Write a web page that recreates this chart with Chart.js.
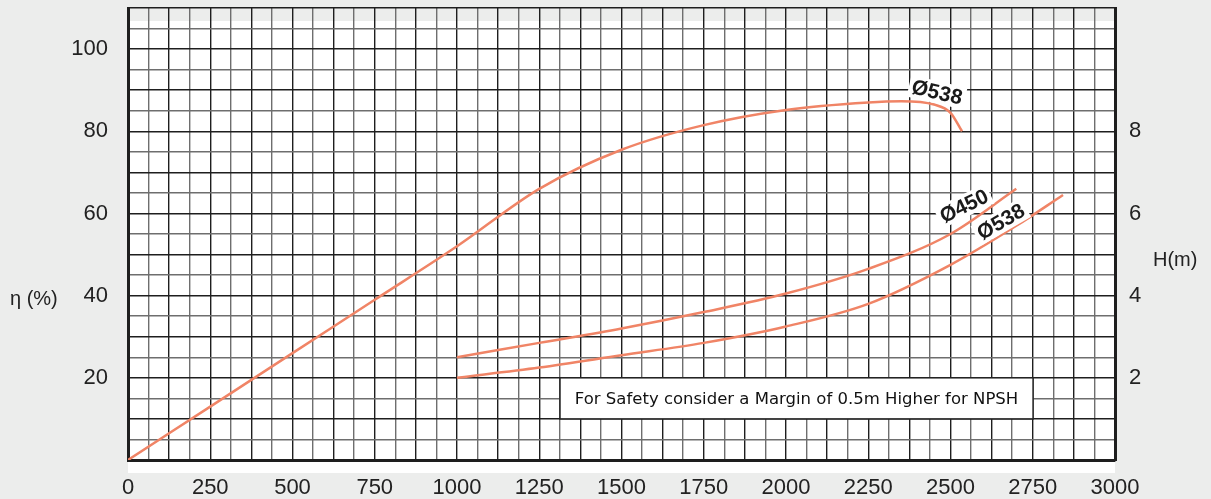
<!DOCTYPE html>
<html>
<head>
<meta charset="utf-8">
<script src="https://cdn.jsdelivr.net/npm/chart.js"></script>
<style>
  html, body { margin: 0; padding: 0; background: #ecedec; }
  canvas { display: block; }
</style>
</head>
<body>
<canvas id="pump" width="1211" height="499"></canvas>
<script>
// efficiency curve (left axis, %)
const effFlow = [0, 250, 500, 750, 1000, 1250, 1500, 1750, 2000, 2250, 2350, 2450, 2500, 2535];
const effVals = [0, 13, 26, 39, 52, 66, 75.5, 81.5, 85.2, 87, 87.3, 86.5, 84.5, 80];
// NPSH curves (right axis, m)
const h450Flow = [1000, 1250, 1500, 1750, 2000, 2250, 2500, 2700];
const h450Vals = [2.5, 2.85, 3.2, 3.6, 4.05, 4.65, 5.5, 6.6];
const h538Flow = [1000, 1250, 1500, 1750, 2000, 2250, 2500, 2700, 2842];
const h538Vals = [2.0, 2.25, 2.55, 2.85, 3.25, 3.8, 4.75, 5.7, 6.45];

const xLabels = [0, 250, 500, 750, 1000, 1250, 1500, 1750, 2000, 2250, 2500, 2750, 3000];
const yLabels = [20, 40, 60, 80, 100];
const y2Labels = [2, 4, 6, 8];

const curveLabels = [
  { text: 'Ø538', x: 2459, y: 89.5, axis: 'y', angle: 13 },
  { text: 'Ø450', x: 2541, y: 6.18, axis: 'y2', angle: -26 },
  { text: 'Ø538', x: 2653, y: 5.8, axis: 'y2', angle: -30 }
];
const note = 'For Safety consider a Margin of 0.5m Higher for NPSH';

const toPts = (xs, ys) => xs.map((x, i) => ({ x: x, y: ys[i] }));
const curveColor = '#f08466';
const gridCol = (ctx) => (ctx.index % 2 === 0 ? '#1e1e1e' : '#6e6e6e');
const noPad = s => { s.paddingTop = 0; s.paddingBottom = 0; s.paddingLeft = 0; s.paddingRight = 0; };

const decor = {
  id: 'decor',
  beforeDraw(chart) {
    const { ctx, chartArea: a } = chart;
    ctx.save();
    ctx.fillStyle = '#ffffff';
    ctx.fillRect(a.left, a.top, a.right - a.left, a.bottom - a.top + 13);
    ctx.fillStyle = '#ecedec';
    ctx.fillRect(a.left, a.top, a.right - a.left, 13);
    ctx.restore();
  },
  beforeDatasetsDraw(chart) {
    const { ctx, scales } = chart;
    const x = scales.x, y = scales.y;
    // note box
    const l = x.getPixelForValue(1313), r = x.getPixelForValue(2751);
    const t = y.getPixelForValue(20), b = y.getPixelForValue(10);
    ctx.save();
    ctx.fillStyle = '#fff';
    ctx.fillRect(l, t, r - l, b - t);
    ctx.strokeStyle = '#222';
    ctx.lineWidth = 1.5;
    ctx.strokeRect(l, t, r - l, b - t);
    ctx.fillStyle = '#111';
    ctx.font = '16.5px "DejaVu Sans"';
    ctx.textAlign = 'center';
    ctx.textBaseline = 'middle';
    ctx.fillText(note, (l + r) / 2, (t + b) / 2 + 1);
    ctx.restore();
  },
  afterDatasetsDraw(chart) {
    const { ctx, scales } = chart;
    ctx.save();
    ctx.font = 'bold 21px "Liberation Sans"';
    ctx.textAlign = 'center';
    ctx.textBaseline = 'middle';
    curveLabels.forEach(c => {
      const px = scales.x.getPixelForValue(c.x);
      const py = scales[c.axis].getPixelForValue(c.y);
      ctx.save();
      ctx.translate(px, py);
      ctx.rotate(c.angle * Math.PI / 180);
      const w = ctx.measureText(c.text).width;
      ctx.fillStyle = '#fff';
      ctx.fillRect(-w / 2 - 3, -11, w + 6, 22);
      ctx.fillStyle = '#1a1a1a';
      ctx.fillText(c.text, 0, 1);
      ctx.restore();
    });
    // axis titles
    ctx.font = '20px "Liberation Sans"';
    ctx.fillStyle = '#222';
    ctx.textAlign = 'left';
    ctx.fillText('η (%)', 10, 299);
    ctx.fillText('H(m)', 1153, 260);
    ctx.restore();
  }
};

new Chart(document.getElementById('pump'), {
  type: 'line',
  data: {
    datasets: [
      { data: toPts(effFlow, effVals), yAxisID: 'y' },
      { data: toPts(h450Flow, h450Vals), yAxisID: 'y2' },
      { data: toPts(h538Flow, h538Vals), yAxisID: 'y2' }
    ].map(d => Object.assign(d, {
      borderColor: curveColor, borderWidth: 2.5, pointRadius: 0,
      fill: false, cubicInterpolationMode: 'monotone'
    }))
  },
  options: {
    responsive: false,
    animation: false,
    events: [],
    layout: { padding: { top: 8, left: 0, right: 0, bottom: 0 } },
    plugins: { legend: { display: false }, tooltip: { enabled: false } },
    scales: {
      x: {
        type: 'linear', min: 0, max: 3000,
        afterFit: s => { s.height = 39; noPad(s); },
        grid: { color: gridCol, lineWidth: 1.4, drawTicks: false },
        border: { color: '#1e1e1e', width: 3 },
        ticks: {
          stepSize: 62.5, autoSkip: false, maxRotation: 0, padding: 15,
          color: '#222', font: { family: 'Liberation Sans', size: 22 },
          callback: v => (xLabels.includes(v) ? String(v) : '')
        }
      },
      y: {
        position: 'left', min: 0, max: 110,
        afterFit: s => { s.width = 128; noPad(s); },
        grid: { color: gridCol, lineWidth: 1.4, drawTicks: false },
        border: { color: '#1e1e1e', width: 3 },
        ticks: {
          stepSize: 5, autoSkip: false, padding: 20,
          color: '#222', font: { family: 'Liberation Sans', size: 22 },
          callback: v => (yLabels.includes(v) ? String(v) : '')
        }
      },
      y2: {
        position: 'right', min: 0, max: 11,
        afterFit: s => { s.width = 96; noPad(s); },
        grid: { display: false, drawTicks: false },
        border: { color: '#1e1e1e', width: 3 },
        ticks: {
          stepSize: 1, autoSkip: false, padding: 14,
          color: '#222', font: { family: 'Liberation Sans', size: 22 },
          callback: v => (y2Labels.includes(v) ? String(v) : '')
        }
      }
    }
  },
  plugins: [decor]
});
</script>
</body>
</html>
